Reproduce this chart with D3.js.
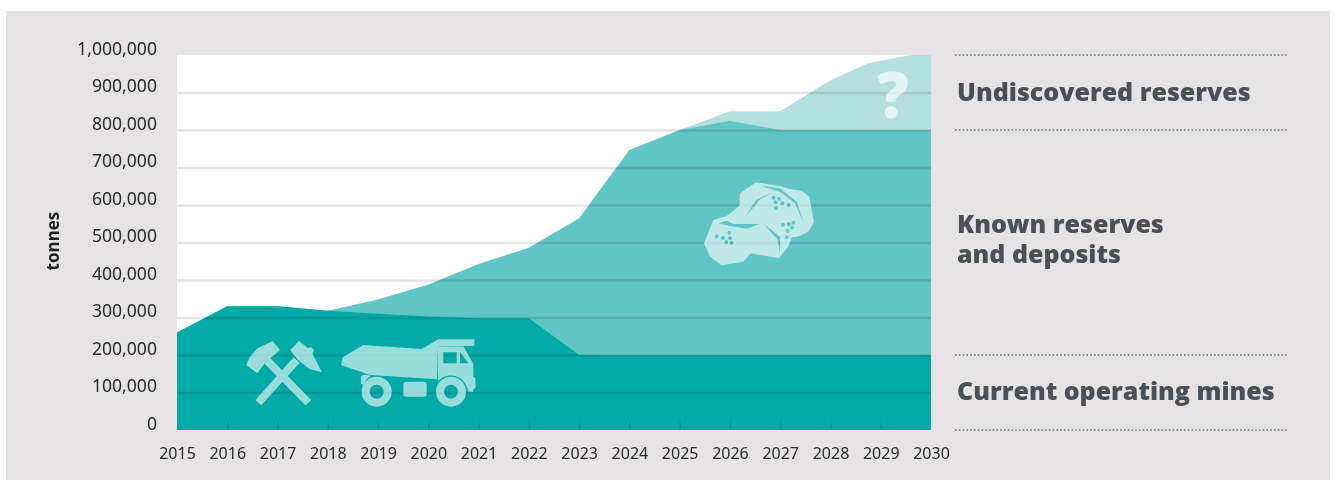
<!DOCTYPE html>
<meta charset="utf-8">
<style>
  html, body { margin: 0; padding: 0; background: #fff; }
  svg { display: block; }
  text { font-family: "Noto Sans", "Open Sans", sans-serif; }
  .tick text { fill: #2b2a2b; }
  .label { font-family: "Open Sans", sans-serif; font-size: 25px; font-weight: 800; fill: #4a5057; }
</style>
<script src="https://d3js.org/d3.v7.min.js"></script>
<svg width="1335" height="480"></svg>
<script>
const tickYears = [2015, 2016, 2017, 2018, 2019, 2020, 2021, 2022, 2023, 2024, 2025, 2026, 2027, 2028, 2029, 2030];
const tickValues = [0, 100000, 200000, 300000, 400000, 500000, 600000, 700000, 800000, 900000, 1000000];

// top edge of each layer, in tonnes
const currentYears = [2015, 2016, 2017, 2018, 2019, 2020, 2021, 2022, 2023, 2030];
const currentMines = [260000, 330000, 330000, 318000, 310000, 303000, 298000, 298000, 200000, 200000];

const knownYears = [2015, 2016, 2017, 2018, 2019, 2020, 2021, 2022, 2023, 2024, 2025, 2026, 2027, 2030];
const knownReserves = [260000, 330000, 330000, 318000, 348000, 388000, 443000, 486000, 565000, 747000, 800000, 824000, 800000, 800000];

const undiscoveredYears = [2025, 2026, 2027, 2028, 2028.75, 2029.6, 2030];
const undiscoveredReserves = [800000, 850000, 850000, 933000, 978000, 1000000, 1000000];

const labels = [
  { lines: ['Undiscovered reserves'], y: 101 },
  { lines: ['Known reserves', 'and deposits'], y: 233 },
  { lines: ['Current operating mines'], y: 400 }
];
const dividers = [1000000, 800000, 200000, 0];

const svg = d3.select('svg');
const margin = { left: 177, right: 931, top: 55, bottom: 430 };

const x = d3.scaleLinear().domain([2015, 2030]).range([margin.left, margin.right]);
const y = d3.scaleLinear().domain([0, 1000000]).range([margin.bottom, margin.top]);

svg.append('rect').attr('x', 6).attr('y', 11).attr('width', 1324).attr('height', 469).attr('fill', '#e5e3e4');
svg.append('rect').attr('x', margin.left).attr('y', margin.top)
  .attr('width', margin.right - margin.left).attr('height', margin.bottom - margin.top).attr('fill', '#fff');

const area = d3.area().x(d => x(d[0])).y0(y(0)).y1(d => y(d[1]));
const layers = [
  [undiscoveredYears, undiscoveredReserves, '#b3dfdf'],
  [knownYears, knownReserves, '#5fc5c5'],
  [currentYears, currentMines, '#00aaa7']
];
layers.forEach(l => {
  svg.append('path').attr('d', area(d3.zip(l[0], l[1]))).attr('fill', l[2]);
});

// y axis also draws the gridlines
const yAxis = svg.append('g').attr('transform', `translate(${margin.left},0)`)
  .call(d3.axisLeft(y).tickValues(tickValues).tickFormat(d3.format(',')).tickSize(-(margin.right - margin.left)).tickPadding(20));
yAxis.select('.domain').remove();
yAxis.selectAll('.tick line').attr('stroke', '#e5e3e4').attr('stroke-width', 2.5).style('mix-blend-mode', 'multiply');
yAxis.selectAll('.tick text').attr('dy', '-0.05em').style('font-size', '17.6px');
yAxis.selectAll('.tick').filter(d => d === 1000000 || d === 0).select('line').remove();

const xAxis = svg.append('g').attr('transform', `translate(0,${margin.bottom})`)
  .call(d3.axisBottom(x).tickValues(tickYears).tickFormat(d3.format('d')).tickSize(-9).tickPadding(18));
xAxis.select('.domain').remove();
xAxis.selectAll('.tick line').attr('stroke', '#009390').attr('stroke-width', 1.5);
xAxis.selectAll('.tick text').style('font-size', '16px');
xAxis.selectAll('.tick').filter(d => d === 2015 || d === 2030).select('line').remove();

svg.append('text').attr('transform', 'translate(59,241) rotate(-90)').attr('text-anchor', 'middle')
  .style('font-size', '17px').style('font-weight', 700).attr('fill', '#1f1f1f').text('tonnes');

// icons
const icons = svg.append('g').attr('opacity', 0.6).attr('fill', '#fff');

// hammer and pick
icons.append('path').attr('d', 'M246,365L257.3,373.3L265,362.7L280,350L272.7,341L257.3,348.3L250,356.7Z');
icons.append('path').attr('d', 'M290,350L299,341L308,348L311,347L314,350L312.5,353.5L316.7,361.7L321.7,372L310,369.3L298,360Z');
icons.append('path').attr('fill', 'none').attr('stroke', '#fff').attr('stroke-width', 8)
  .attr('d', 'M267.3,360.7L308.3,402.7M296.7,360L258.3,402.7');

// truck
const circ = (cx, cy, r) => `M${cx - r},${cy}a${r},${r} 0 1,0 ${2 * r},0a${r},${r} 0 1,0 ${-2 * r},0Z`;
icons.append('path').attr('d', 'M341,365L342.7,357.3L363.3,345L421.7,349L438.3,339.3L474.3,339.3L474.3,345.7L438,346.5L437,379.3L370,375Z');
icons.append('path').attr('fill-rule', 'evenodd').attr('d', 'M438,346.5L463.5,346.5L473.3,364L473.3,391.7L468.3,391.7C467,383 460,375.5 451,375.5C445,375.5 441,378 438,381Z'
  + 'M443.3,352.3L456.7,352.3L456.7,363.3L443.3,363.3Z M460,351.7L468.3,363.3L460,363.3Z');
icons.append('path').attr('fill-rule', 'evenodd').attr('d', circ(376.7, 391.7, 15) + circ(376.7, 391.7, 7));
icons.append('path').attr('fill-rule', 'evenodd').attr('d', circ(451, 391.7, 15) + circ(451, 391.7, 7));
icons.append('rect').attr('x', 403.3).attr('y', 381.7).attr('width', 23.4).attr('height', 15).attr('rx', 3);
icons.append('path').attr('d', 'M361,376L366,374.5L371,376C367,378 365,381 364,385L361,384Z');
icons.append('rect').attr('x', 470.5).attr('y', 377).attr('width', 5).attr('height', 12).attr('rx', 2);

// rock, coordinates are read in the crop so scaled here
const rx = v => 680 + v / 3, ry = v => 40 + v / 3;
const poly = pts => 'M' + pts.map(p => `${rx(p[0])},${ry(p[1])}`).join('L') + 'Z';
const rock = [[72,610],[100,540],[140,528],[178,498],[180,460],[228,427],[300,438],[330,447],[365,452],[388,470],[402,545],[385,575],[355,590],[335,592],[325,620],[296,655],[212,640],[190,665],[125,676],[90,650]];
const cracks = [
  [[195,533],[228,480],[280,455],[240,478]],
  [[245,438],[300,445],[350,485],[370,545],[345,490],[300,455]],
  [[115,550],[140,542],[160,552],[240,552],[200,566],[150,558]],
  [[252,553],[300,590],[300,640],[292,598]]
];
const specks = [[281,473],[297,477],[287,487],[307,490],[326,494],[288,504],[309,554],[326,553],[340,548],[336,563],[323,573],[320,592],[110,589],[129,594],[148,578],[150,595],[139,606],[155,609]];
icons.append('path').attr('fill-rule', 'evenodd').attr('d', poly(rock) + cracks.map(poly).join('') + specks.map(p => circ(rx(p[0]), ry(p[1]), 2)).join(''));

svg.append('text').attr('x', 893).attr('y', 118).attr('text-anchor', 'middle').attr('fill', '#fff').attr('opacity', 0.65)
  .style('font-family', '"Open Sans", sans-serif').style('font-size', '64px').style('font-weight', 800).text('?');

// right side key
svg.selectAll('.divider').data(dividers).enter().append('line').attr('class', 'divider')
  .attr('x1', 956).attr('x2', 1287).attr('y1', d => y(d)).attr('y2', d => y(d))
  .attr('stroke', '#808285').attr('stroke-width', 2).attr('stroke-linecap', 'round').attr('stroke-dasharray', '0 3.75');

labels.forEach(l => {
  const t = svg.append('text').attr('class', 'label').attr('x', 957).attr('y', l.y);
  l.lines.forEach((s, i) => t.append('tspan').attr('x', 957).attr('dy', i ? 30 : 0).text(s));
});
</script>
